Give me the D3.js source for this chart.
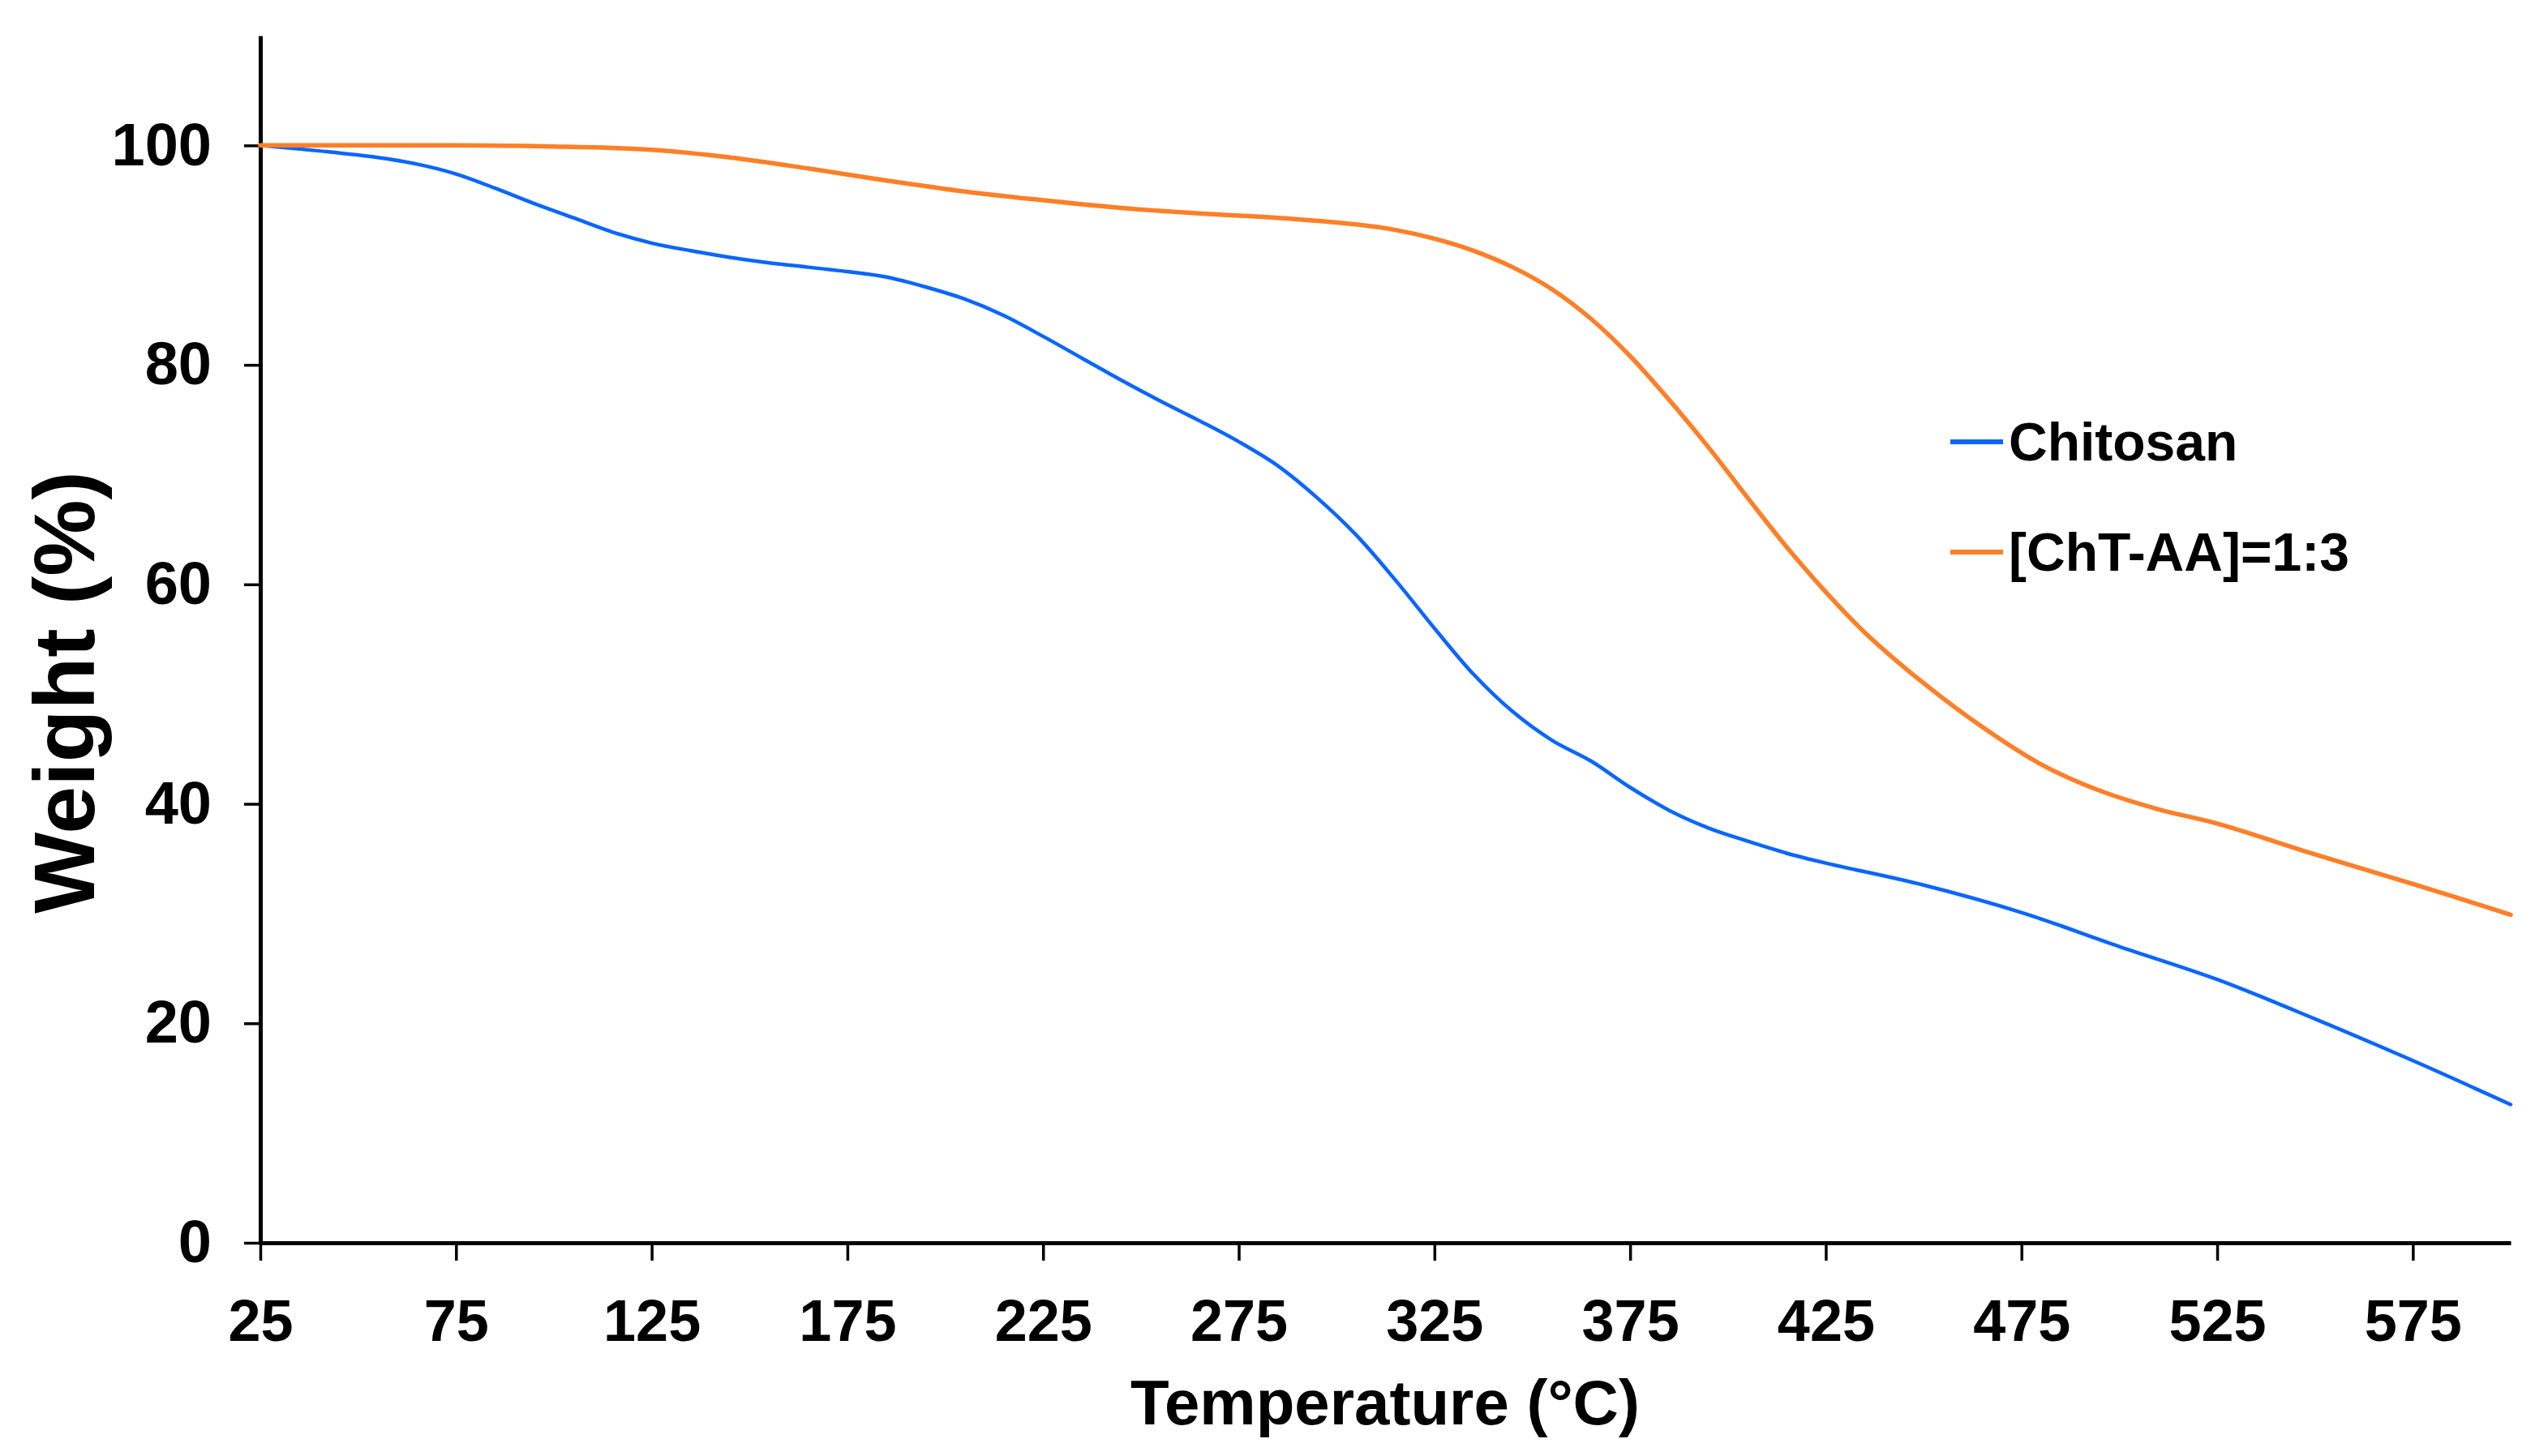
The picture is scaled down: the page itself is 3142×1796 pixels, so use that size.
<!DOCTYPE html>
<html>
<head>
<meta charset="utf-8">
<script src="https://cdn.jsdelivr.net/npm/d3@7"></script>
<style>
  html, body { margin: 0; padding: 0; background: #fff; }
  svg { display: block; }
  text { font-family: "Liberation Sans", Arial, Helvetica, sans-serif; font-weight: bold; fill: #000; }
</style>
</head>
<body>
<svg id="chart" width="3142" height="1796"></svg>
<script>
// ---- Data ----
const chitosanTemp = [25, 40, 55, 65, 75, 85, 95, 105, 115, 125, 135, 145, 155, 165, 175, 185, 195, 205, 215, 225, 235, 245, 255, 265, 275, 285, 295, 305, 315, 325, 335, 345, 355, 365, 375, 385, 395, 405, 415, 425, 450, 475, 500, 525, 550, 575, 600];
const chitosanWeight = [100, 99.5, 98.9, 98.3, 97.4, 96.1, 94.7, 93.4, 92.1, 91.1, 90.4, 89.8, 89.3, 88.9, 88.5, 88.0, 87.1, 86.0, 84.5, 82.6, 80.6, 78.6, 76.7, 74.9, 73.0, 70.8, 67.9, 64.5, 60.4, 56.0, 51.8, 48.4, 45.8, 43.9, 41.5, 39.4, 37.8, 36.6, 35.5, 34.6, 32.6, 30.1, 27.0, 24.0, 20.4, 16.6, 12.6];

const chtaaTemp = [25, 50, 75, 100, 125, 145, 165, 185, 205, 225, 245, 265, 285, 305, 315, 325, 335, 345, 355, 365, 375, 385, 395, 405, 415, 425, 435, 450, 465, 480, 495, 510, 525, 550, 575, 600];
const chtaaWeight = [100, 100, 100, 99.9, 99.6, 98.9, 97.9, 96.8, 95.8, 95.0, 94.3, 93.8, 93.4, 92.8, 92.3, 91.5, 90.4, 88.9, 86.9, 84.2, 80.8, 76.8, 72.5, 67.9, 63.4, 59.3, 55.6, 51.0, 47.0, 43.6, 41.2, 39.5, 38.2, 35.4, 32.7, 29.9];

const seriesNames = ["Chitosan", "[ChT-AA]=1:3"];
const seriesColors = ["#0a66ff", "#ff7f27"];
const xTickValues = [25, 75, 125, 175, 225, 275, 325, 375, 425, 475, 525, 575];
const yTickValues = [0, 20, 40, 60, 80, 100];
const xTitle = "Temperature (°C)";
const yTitle = "Weight (%)";

// ---- Chart ----
const svg = d3.select("#chart");

const x = d3.scaleLinear().domain([25, 600]).range([321, 3096]);
const y = d3.scaleLinear().domain([0, 110]).range([1533, 44]);

const series = [
  { name: seriesNames[0], color: seriesColors[0], width: 4.5,
    pts: chitosanTemp.map((t, i) => [t, chitosanWeight[i]]) },
  { name: seriesNames[1], color: seriesColors[1], width: 5.5,
    pts: chtaaTemp.map((t, i) => [t, chtaaWeight[i]]) }
];

// Axes
const xAxis = d3.axisBottom(x).tickValues(xTickValues).tickSize(22).tickSizeOuter(0).tickPadding(48);
const yAxis = d3.axisLeft(y).tickValues(yTickValues).tickSize(20).tickSizeOuter(0).tickPadding(40);

const gx = svg.append("g").attr("transform", "translate(0,1533)").call(xAxis);
const gy = svg.append("g").attr("transform", "translate(321,0)").call(yAxis);

[gx, gy].forEach(g => {
  g.select(".domain").attr("stroke", "#000").attr("stroke-width", 5);
  g.selectAll(".tick line").attr("stroke", "#000").attr("stroke-width", 3.5);
  g.selectAll(".tick text").attr("fill", "#000")
    .style("font-family", '"Liberation Sans", Arial, sans-serif')
    .style("font-weight", "bold");
});
gx.selectAll(".tick text").style("font-size", "72px");
gy.selectAll(".tick text").style("font-size", "74px");

// Lines
const line = d3.line()
  .x(d => x(d[0]))
  .y(d => y(d[1]))
  .curve(d3.curveCatmullRom.alpha(0.5));

svg.append("g").selectAll("path")
  .data(series)
  .join("path")
  .attr("fill", "none")
  .attr("stroke", d => d.color)
  .attr("stroke-width", d => d.width)
  .attr("stroke-linejoin", "round")
  .attr("stroke-linecap", "round")
  .attr("d", d => line(d.pts));

// Axis titles
svg.append("text")
  .attr("x", 1708).attr("y", 1757)
  .attr("text-anchor", "middle")
  .style("font-size", "78px")
  .text(xTitle);

svg.append("text")
  .attr("transform", "translate(116,854) rotate(-90)")
  .attr("text-anchor", "middle")
  .style("font-size", "106px")
  .text(yTitle);

// Legend
const legend = svg.append("g");
const legendY = [545, 681];
series.forEach((s, i) => {
  legend.append("line")
    .attr("x1", 2405).attr("x2", 2470)
    .attr("y1", legendY[i]).attr("y2", legendY[i])
    .attr("stroke", s.color).attr("stroke-width", 6);
  legend.append("text")
    .attr("x", 2477).attr("y", legendY[i]).attr("dy", "0.35em")
    .style("font-size", "66px")
    .text(s.name);
});
</script>
</body>
</html>
